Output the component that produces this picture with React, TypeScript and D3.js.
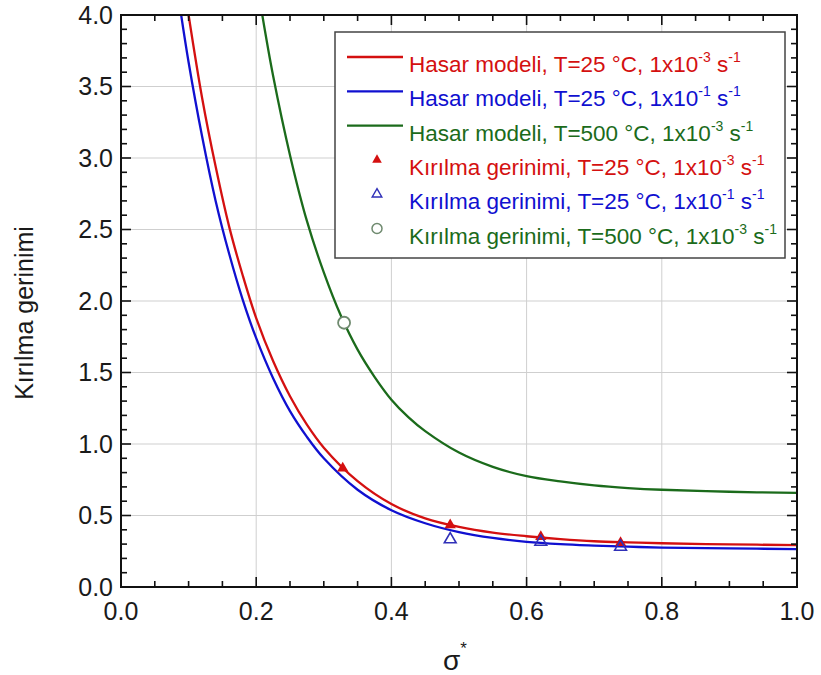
import React from 'react';
import * as d3 from 'd3';

// Model curves
const redX = [0.1, 0.12, 0.14, 0.16, 0.18, 0.2, 0.225, 0.25, 0.275, 0.3, 0.35, 0.4, 0.45, 0.5, 0.55, 0.6, 0.65, 0.7, 0.75, 0.8, 0.9, 1.0];
const redY = [4.0, 3.42, 2.94, 2.52, 2.18, 1.88, 1.58, 1.334, 1.135, 0.974, 0.74, 0.58, 0.48, 0.42, 0.38, 0.355, 0.335, 0.32, 0.312, 0.306, 0.298, 0.293];

const blueX = [0.089, 0.1, 0.12, 0.14, 0.16, 0.18, 0.2, 0.225, 0.25, 0.275, 0.3, 0.35, 0.4, 0.45, 0.5, 0.55, 0.6, 0.65, 0.7, 0.75, 0.8, 0.9, 1.0];
const blueY = [4.0, 3.67, 3.15, 2.7, 2.33, 2.01, 1.74, 1.46, 1.23, 1.05, 0.9, 0.68, 0.537, 0.446, 0.384, 0.343, 0.316, 0.3, 0.29, 0.282, 0.276, 0.27, 0.265];

const greenX = [0.209, 0.225, 0.25, 0.275, 0.3, 0.325, 0.35, 0.375, 0.4, 0.425, 0.45, 0.5, 0.55, 0.6, 0.65, 0.7, 0.75, 0.8, 0.9, 1.0];
const greenY = [4.0, 3.575, 3.02, 2.56, 2.2, 1.9, 1.66, 1.47, 1.31, 1.188, 1.09, 0.94, 0.84, 0.775, 0.738, 0.71, 0.692, 0.68, 0.666, 0.658];

// Measured points
const redPtsX = [0.328, 0.487, 0.621, 0.739];
const redPtsY = [0.83, 0.433, 0.351, 0.309];
const bluePtsX = [0.487, 0.621, 0.739];
const bluePtsY = [0.333, 0.316, 0.281];
const greenPtsX = [0.33];
const greenPtsY = [1.848];

const xTicks = [0.0, 0.2, 0.4, 0.6, 0.8, 1.0];
const yTicks = [0.0, 0.5, 1.0, 1.5, 2.0, 2.5, 3.0, 3.5, 4.0];

const legendLabels = ['Hasar modeli, T=25 °C, 1x10', 'Hasar modeli, T=25 °C, 1x10', 'Hasar modeli, T=500 °C, 1x10', 'Kırılma gerinimi, T=25 °C, 1x10', 'Kırılma gerinimi, T=25 °C, 1x10', 'Kırılma gerinimi, T=500 °C, 1x10'];
const legendExp = ['-3', '-1', '-3', '-3', '-1', '-3'];
const legendKinds = ['line', 'line', 'line', 'tri', 'otri', 'circle'];

const RED = '#d41010';
const BLUE = '#1010d0';
const GREEN = '#1b6b1b';
const legendColors = [RED, BLUE, GREEN, RED, BLUE, GREEN];

const FONT = '"Liberation Sans", Arial, Helvetica, sans-serif';

export default function App() {
  const W = 821, H = 675;
  const L = 121, R = 797, T = 15, B = 587;
  const x = d3.scaleLinear().domain([0, 1]).range([L, R]);
  const y = d3.scaleLinear().domain([0, 4]).range([B, T]);
  const line = d3.line<[number, number]>().x(d => x(d[0])).y(d => y(d[1])).curve(d3.curveCatmullRom.alpha(0.5));
  const zip = (a: number[], b: number[]) => a.map((v, i) => [v, b[i]] as [number, number]);

  const tri = (s: number) => d3.symbol().type(d3.symbolTriangle).size(s)() as string;

  const xMinor = d3.range(0, 1.0001, 0.05);
  const yMinor = d3.range(0, 4.0001, 0.1);

  const legX = 335, legY = 32, legW = 450, legH = 226;
  const rowBase = (i: number) => 72 + i * 34.3;

  return (
    <div style={{ position: 'absolute', left: 0, top: 0 }}>
      <svg width={W} height={H} style={{ display: 'block', background: '#fff' }} fontFamily={FONT}>
        <defs>
          <clipPath id="plot"><rect x={L} y={T} width={R - L} height={B - T} /></clipPath>
        </defs>
        {/* grid */}
        {xTicks.filter(t => t > 0 && t < 1).map(t => (
          <line key={'gx' + t} x1={x(t)} x2={x(t)} y1={T} y2={B} stroke="#cfcfcf" strokeWidth={1} />
        ))}
        {yTicks.filter(t => t > 0 && t < 4).map(t => (
          <line key={'gy' + t} x1={L} x2={R} y1={y(t)} y2={y(t)} stroke="#cfcfcf" strokeWidth={1} />
        ))}
        {/* curves */}
        <g clipPath="url(#plot)" fill="none" strokeWidth={2.3}>
          <path d={line(zip(greenX, greenY)) as string} stroke={GREEN} />
          <path d={line(zip(blueX, blueY)) as string} stroke={BLUE} />
          <path d={line(zip(redX, redY)) as string} stroke={RED} />
        </g>
        {/* points */}
        {redPtsX.map((v, i) => (
          <path key={'rp' + i} d={tri(55)} transform={`translate(${x(v)},${y(redPtsY[i])})`} fill={RED} />
        ))}
        {bluePtsX.map((v, i) => (
          <path key={'bp' + i} d={tri(60)} transform={`translate(${x(v)},${y(bluePtsY[i])})`} fill="none" stroke="#3030b8" strokeWidth={1.6} />
        ))}
        {greenPtsX.map((v, i) => (
          <circle key={'gp' + i} cx={x(v)} cy={y(greenPtsY[i])} r={6} fill="#fff" stroke="#6f8a6f" strokeWidth={1.8} />
        ))}
        {/* legend */}
        <rect x={legX} y={legY} width={legW} height={legH} fill="#fff" stroke="#444" strokeWidth={1.5} />
        {legendLabels.map((lab, i) => {
          const base = rowBase(i);
          const cy = base - 15;
          const c = legendColors[i];
          let sym: any = null;
          if (legendKinds[i] === 'line') sym = <line x1={347} x2={403} y1={cy} y2={cy} stroke={c} strokeWidth={2.3} />;
          else if (legendKinds[i] === 'tri') sym = <path d={tri(40)} transform={`translate(377,${cy})`} fill={RED} />;
          else if (legendKinds[i] === 'otri') sym = <path d={tri(40)} transform={`translate(377,${cy})`} fill="none" stroke="#3030b8" strokeWidth={1.4} />;
          else sym = <circle cx={377} cy={cy} r={5} fill="#fff" stroke="#6f8a6f" strokeWidth={1.5} />;
          return (
            <g key={'lg' + i}>
              {sym}
              <text x={409} y={base} fontSize={22.5} fill={c}>
                {lab}
                <tspan fontSize={14} dy={-10}>{legendExp[i]}</tspan>
                <tspan fontSize={22.5} dy={10}> s</tspan>
                <tspan fontSize={14} dy={-10}>-1</tspan>
              </text>
            </g>
          );
        })}
        {/* minor/major ticks */}
        {xMinor.map((t, i) => {
          const major = Math.abs(t * 5 - Math.round(t * 5)) < 1e-6;
          const len = major ? 10 : 6;
          return (
            <g key={'xt' + i} stroke="#111" strokeWidth={1.6}>
              <line x1={x(t)} x2={x(t)} y1={B} y2={B - len} />
              <line x1={x(t)} x2={x(t)} y1={T} y2={T + len} />
            </g>
          );
        })}
        {yMinor.map((t, i) => {
          const major = Math.abs(t * 2 - Math.round(t * 2)) < 1e-6;
          const len = major ? 10 : 6;
          return (
            <g key={'yt' + i} stroke="#111" strokeWidth={1.6}>
              <line x1={L} x2={L + len} y1={y(t)} y2={y(t)} />
              <line x1={R} x2={R - len} y1={y(t)} y2={y(t)} />
            </g>
          );
        })}
        {/* frame */}
        <rect x={L} y={T} width={R - L} height={B - T} fill="none" stroke="#111" strokeWidth={2} />
        {/* tick labels */}
        {xTicks.map(t => (
          <text key={'xl' + t} x={x(t)} y={620} fontSize={25} textAnchor="middle" fill="#1a1a1a">{t.toFixed(1)}</text>
        ))}
        {yTicks.map(t => (
          <text key={'yl' + t} x={113} y={y(t)} dy="0.35em" fontSize={25} textAnchor="end" fill="#1a1a1a">{t.toFixed(1)}</text>
        ))}
        {/* axis titles */}
        <text transform={`translate(33,${(T + B) / 2 + 12}) rotate(-90)`} fontSize={25} textAnchor="middle" fill="#1a1a1a">Kırılma gerinimi</text>
        <text x={455} y={670} fontSize={28} textAnchor="middle" fill="#1a1a1a">σ<tspan fontSize={17} dy={-16}>*</tspan></text>
      </svg>
    </div>
  );
}
